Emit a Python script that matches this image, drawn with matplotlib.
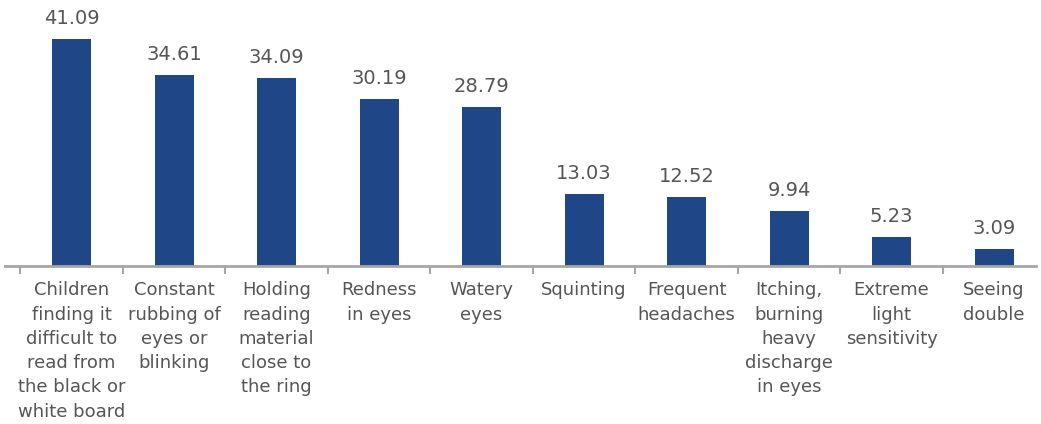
import numpy as np
import matplotlib
matplotlib.use("Agg")
import matplotlib.pyplot as plt

symptoms = [
    "Children\nfinding it\ndifficult to\nread from\nthe black or\nwhite board",
    "Constant\nrubbing of\neyes or\nblinking",
    "Holding\nreading\nmaterial\nclose to\nthe ring",
    "Redness\nin eyes",
    "Watery\neyes",
    "Squinting",
    "Frequent\nheadaches",
    "Itching,\nburning\nheavy\ndischarge\nin eyes",
    "Extreme\nlight\nsensitivity",
    "Seeing\ndouble",
]
percent = [41.09, 34.61, 34.09, 30.19, 28.79, 13.03, 12.52, 9.94, 5.23, 3.09]

bar_color = "#1f4788"
text_color = "#555555"
axis_color = "#a6a6a6"

fig = plt.figure(figsize=(10.41, 4.24), dpi=100)
ax = fig.add_axes([0.0, 0.3726, 1.0, 0.6274])

x = np.arange(len(percent))
bars = ax.bar(x, percent, width=0.38, color=bar_color)

for b, v in zip(bars, percent):
    ax.text(b.get_x() + b.get_width() / 2, v + 2.0, f"{v:.2f}",
            ha="center", va="bottom", fontsize=14, color=text_color)

ax.set_xlim(-0.698, 9.458)
ax.set_ylim(0, 48.2)

# boundary ticks between categories, labels at the centres
ax.set_xticks(np.arange(-0.5, 9.0, 1.0))
ax.set_xticklabels([])
ax.tick_params(axis="x", which="major", direction="out", length=6, width=1.5,
               color=axis_color)
ax.set_xticks(x, minor=True)
ax.set_xticklabels(symptoms, minor=True, fontsize=13, color=text_color,
                   linespacing=1.45, va="top")
ax.tick_params(axis="x", which="minor", length=0, pad=11)

ax.set_yticks([])
for side in ["top", "right", "left"]:
    ax.spines[side].set_visible(False)
ax.spines["bottom"].set_color(axis_color)
ax.spines["bottom"].set_linewidth(2)
ax.spines["bottom"].set_bounds(-0.649, 9.41)

fig.savefig("out.png", dpi=100)
